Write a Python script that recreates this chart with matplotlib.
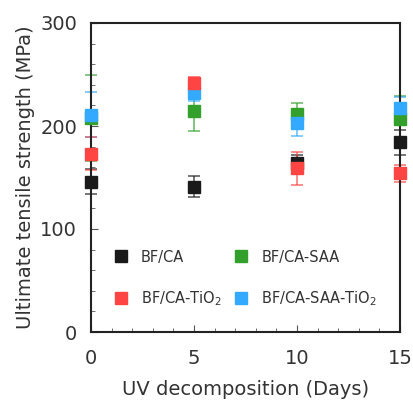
import numpy as np
import matplotlib
matplotlib.use("Agg")
import matplotlib.pyplot as plt
from matplotlib.ticker import MultipleLocator

days = [0, 5, 10, 15]
bf_ca = [146, 141, 164, 184]
bf_ca_err = [12, 10, 8, 12]
bf_ca_saa = [208, 215, 212, 207]
bf_ca_saa_err = [42, 20, 10, 22]
bf_ca_saa_tio2 = [211, 232, 203, 217]
bf_ca_saa_tio2_err = [22, 8, 13, 11]
bf_ca_tio2 = [173, 242, 159, 154]
bf_ca_tio2_err = [16, 6, 16, 8]

series = [
    ("BF/CA", bf_ca, bf_ca_err, "#1a1a1a"),
    ("BF/CA-SAA", bf_ca_saa, bf_ca_saa_err, "#33a02c"),
    ("BF/CA-SAA-TiO$_2$", bf_ca_saa_tio2, bf_ca_saa_tio2_err, "#33aaff"),
    ("BF/CA-TiO$_2$", bf_ca_tio2, bf_ca_tio2_err, "#ff4444"),
]

plt.rcParams["text.color"] = "#333333"
plt.rcParams["axes.labelcolor"] = "#333333"
plt.rcParams["xtick.labelcolor"] = "#333333"
plt.rcParams["ytick.labelcolor"] = "#333333"

fig = plt.figure(figsize=(4.13, 4.01), dpi=100)
ax = fig.add_axes([91/413, 1 - 332/401, 309/413, 309/401])

handles = {}
for name, vals, err, col in series:
    ax.errorbar(days, vals, yerr=err, fmt="none", ecolor=col, alpha=0.7,
                elinewidth=1.2, capsize=4, capthick=1.2, zorder=2, clip_on=False)
    h, = ax.plot(days, vals, "s", color=col, markersize=8, linestyle="none",
                 zorder=3, label=name, clip_on=False)
    handles[name] = h

ax.set_xlim(0, 15)
ax.set_ylim(0, 300)
ax.xaxis.set_major_locator(MultipleLocator(5))
ax.xaxis.set_minor_locator(MultipleLocator(1))
ax.yaxis.set_major_locator(MultipleLocator(100))
ax.yaxis.set_minor_locator(MultipleLocator(20))
ax.tick_params(which="both", direction="in", labelsize=14, color="#555555")
ax.tick_params(which="major", length=5)
ax.tick_params(which="minor", length=3)
ax.tick_params(axis="x", which="major", pad=12)
ax.tick_params(axis="y", which="major", pad=10)
for s in ax.spines.values():
    s.set_linewidth(1.5)
    s.set_color("#222222")

ax.set_xlabel("UV decomposition (Days)", fontsize=14, labelpad=9)
ax.set_ylabel("Ultimate tensile strength (MPa)", fontsize=14, labelpad=4)

order = ["BF/CA", "BF/CA-TiO$_2$", "BF/CA-SAA", "BF/CA-SAA-TiO$_2$"]
ax.legend([handles[k] for k in order], order, ncol=2, frameon=False,
          loc="lower left", bbox_to_anchor=(0.03, 0.035), fontsize=10.5,
          handlelength=1.0, handletextpad=0.9, columnspacing=0.8,
          labelspacing=1.7, markerscale=1.0)

fig.savefig("out.png", dpi=100)
